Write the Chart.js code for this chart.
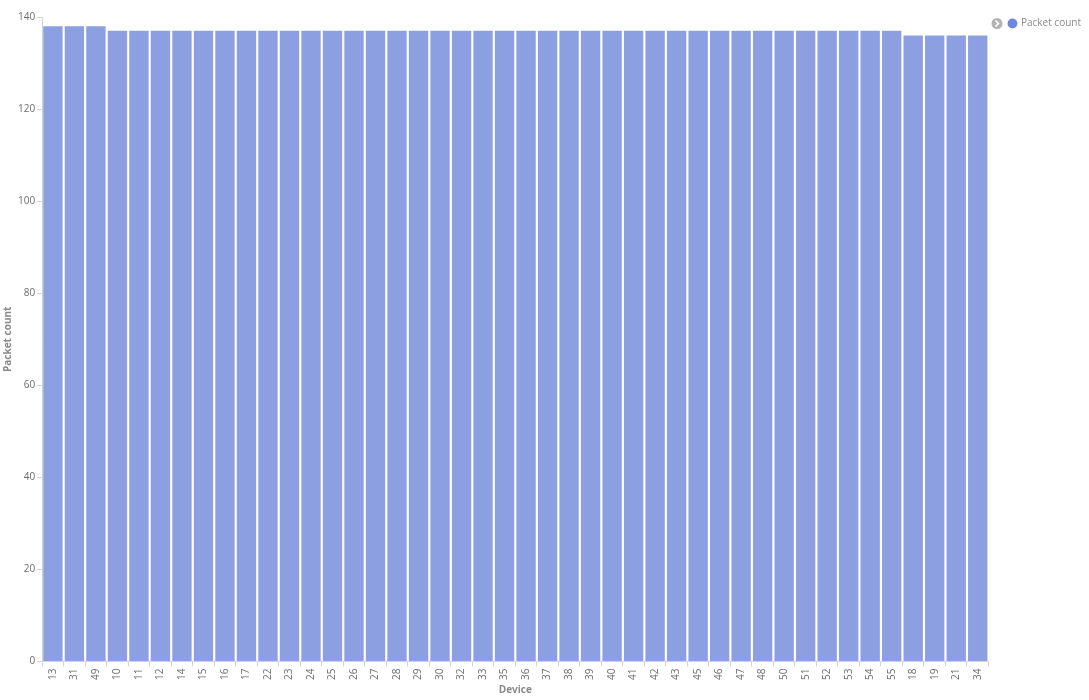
<!DOCTYPE html>
<html>
<head>
<meta charset="utf-8">
<script src="https://cdn.jsdelivr.net/npm/chart.js@4"></script>
<style>
  html, body { margin: 0; padding: 0; background: #fff; }
  #wrap { width: 1089px; height: 700px; position: relative; }
</style>
</head>
<body>
<div id="wrap"><canvas id="chart"></canvas></div>
<script>
// ── Data ─────────────────────────────────────────
const DEVICES = ['13', '31', '49', '10', '11', '12', '14', '15', '16', '17', '22', '23', '24', '25', '26',
  '27', '28', '29', '30', '32', '33', '35', '36', '37', '38', '39', '40', '41', '42', '43', '45', '46',
  '47', '48', '50', '51', '52', '53', '54', '55', '18', '19', '21', '34'];
const PACKET_COUNTS = [138, 138, 138, 137, 137, 137, 137, 137, 137, 137, 137, 137, 137, 137, 137,
  137, 137, 137, 137, 137, 137, 137, 137, 137, 137, 137, 137, 137, 137, 137, 137, 137,
  137, 137, 137, 137, 137, 137, 137, 137, 136, 136, 136, 136];
const Y_TICKS = [0, 20, 40, 60, 80, 100, 120, 140];

const FONT = "'Open Sans', sans-serif";
const AXIS_COLOR = '#d4d4d4';
const TEXT_COLOR = '#6d6d6d';

// legend sits in the top-right corner, a bit higher/right than Chart.js puts it
const legendNudge = {
  id: 'legendNudge',
  afterLayout(chart) {
    const lg = chart.legend;
    if (!lg) return;
    const h = lg.height;
    lg.top = 0;
    lg.bottom = lg.top + h;
    lg.left += 2;
    lg.right += 2;
  }
};

// small grey chevron button drawn left of the legend
const legendChevron = {
  id: 'legendChevron',
  afterDraw(chart) {
    const lg = chart.legend;
    if (!lg || !lg.legendHitBoxes || !lg.legendHitBoxes.length) return;
    const box = lg.legendHitBoxes[0];
    const ctx = chart.ctx;
    const cx = box.left - 12, cy = box.top + box.height / 2;
    ctx.save();
    ctx.fillStyle = '#b3b3b3';
    ctx.beginPath();
    ctx.arc(cx, cy, 5.5, 0, Math.PI * 2);
    ctx.fill();
    ctx.strokeStyle = '#fff';
    ctx.lineWidth = 1.6;
    ctx.beginPath();
    ctx.moveTo(cx - 1.5, cy - 3);
    ctx.lineTo(cx + 1.5, cy);
    ctx.lineTo(cx - 1.5, cy + 3);
    ctx.stroke();
    ctx.restore();
  }
};

new Chart(document.getElementById('chart'), {
  type: 'bar',
  data: {
    labels: DEVICES,
    datasets: [{
      label: 'Packet count',
      data: PACKET_COUNTS,
      backgroundColor: '#8b9fe1',
      borderWidth: 0,
      barPercentage: 0.9,
      categoryPercentage: 1.0,
    }],
  },
  options: {
    responsive: true,
    maintainAspectRatio: false,
    animation: false,
    layout: { padding: { top: 17, left: 2, right: 0, bottom: 4 } },
    plugins: {
      legend: {
        position: 'right',
        align: 'start',
        labels: {
          usePointStyle: true,
          pointStyle: 'circle',
          boxWidth: 7,
          boxHeight: 7,
          padding: 18.5,
          color: '#8a8a8a',
          font: { family: FONT, size: 10 },
          generateLabels(chart) {
            return [{
              text: 'Packet count',
              fillStyle: '#6f88dd',
              strokeStyle: '#6f88dd',
              lineWidth: 0,
              pointStyle: 'circle',
              datasetIndex: 0,
              fontColor: '#8a8a8a',
            }];
          },
        },
      },
      tooltip: { enabled: true },
    },
    scales: {
      x: {
        offset: true,
        grid: {
          display: true,
          drawOnChartArea: false,
          drawTicks: true,
          tickLength: 5,
          color: AXIS_COLOR,
          offset: true,
        },
        border: { color: AXIS_COLOR },
        ticks: {
          autoSkip: false,
          minRotation: 90,
          maxRotation: 90,
          color: TEXT_COLOR,
          padding: 2,
          font: { family: FONT, size: 10 },
        },
        title: {
          display: true,
          text: 'Device',
          color: '#8a8a8a',
          padding: { top: 2, bottom: 0 },
          font: { family: FONT, size: 10, weight: 'bold' },
        },
      },
      y: {
        min: 0,
        max: 140,
        afterBuildTicks(axis) {
          axis.ticks = Y_TICKS.map(v => ({ value: v }));
        },
        grid: {
          display: true,
          drawOnChartArea: false,
          drawTicks: true,
          tickLength: 5,
          color: AXIS_COLOR,
        },
        border: { color: AXIS_COLOR },
        ticks: {
          color: TEXT_COLOR,
          padding: 2,
          font: { family: FONT, size: 10 },
        },
        title: {
          display: true,
          text: 'Packet count',
          color: '#8a8a8a',
          padding: { top: 0, bottom: 2 },
          font: { family: FONT, size: 10, weight: 'bold' },
        },
      },
    },
  },
  plugins: [legendNudge, legendChevron],
});
</script>
</body>
</html>
